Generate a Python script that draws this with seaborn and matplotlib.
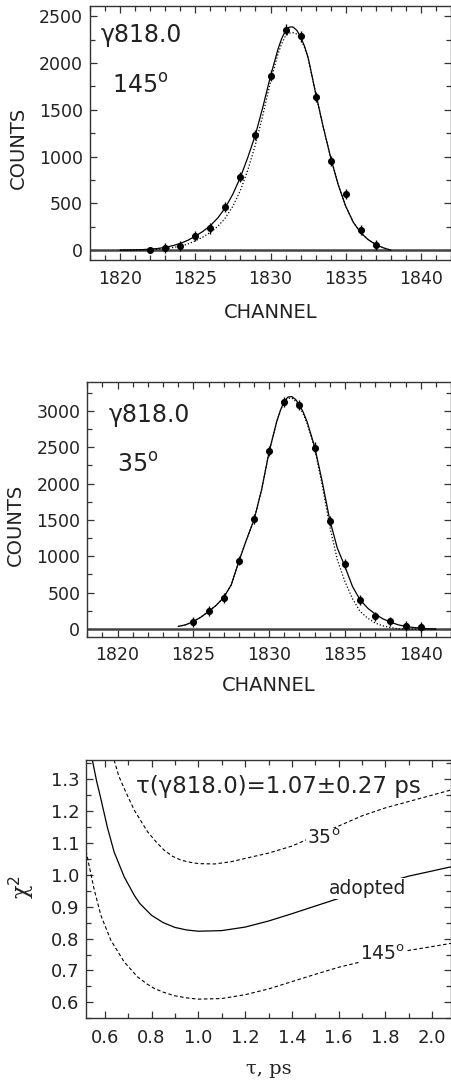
import numpy as np
import pandas as pd
import matplotlib
matplotlib.use("Agg")
import matplotlib.pyplot as plt
import seaborn as sns
from matplotlib.ticker import MultipleLocator, FormatStrFormatter

# ---------------- data ----------------
# Panel 1 (145 deg)
ch145 = [1822, 1823, 1824, 1825, 1826, 1827, 1828, 1829, 1830, 1831, 1832, 1833, 1834, 1835, 1836, 1837]
cnt145 = [0, 20, 48, 152, 233, 465, 783, 1229, 1866, 2358, 2288, 1638, 956, 597, 214, 55]
err145 = [25, 55, 55, 55, 55, 55, 55, 55, 58, 58, 58, 55, 55, 55, 55, 55]

fit145_x = [1820, 1820.5, 1821, 1821.5, 1822, 1822.5, 1823, 1823.5, 1824, 1824.5, 1825, 1825.5,
            1826, 1826.5, 1827, 1827.5, 1828, 1828.5, 1829, 1829.5, 1830, 1830.5, 1830.75, 1831,
            1831.25, 1831.5, 1831.75, 1832, 1832.25, 1832.5, 1833, 1833.5, 1834, 1834.5, 1835,
            1835.5, 1836, 1836.5, 1837, 1837.5, 1838]
fit145_solid = [0, 1, 3, 6, 11, 18, 30, 48, 72, 105, 150, 200,
                262, 345, 455, 600, 780, 995, 1235, 1535, 1860, 2150, 2265, 2345,
                2385, 2385, 2350, 2280, 2185, 2060, 1680, 1320, 990, 700, 470,
                300, 185, 112, 60, 25, 0]
fit145_dot = [0, 0, 1, 3, 5, 10, 17, 28, 42, 65, 100, 140,
              190, 255, 345, 470, 640, 860, 1130, 1450, 1800, 2100, 2210, 2290,
              2320, 2325, 2310, 2260, 2170, 2050, 1680, 1320, 990, 700, 470,
              300, 185, 112, 60, 25, 0]

# Panel 2 (35 deg)
ch35 = [1825, 1826, 1827, 1828, 1829, 1830, 1831, 1832, 1833, 1834, 1835, 1836, 1837, 1838, 1839, 1840]
cnt35 = [96, 247, 426, 942, 1515, 2449, 3126, 3085, 2495, 1488, 897, 402, 173, 105, 45, 27]
err35 = [65, 65, 65, 65, 65, 70, 70, 70, 70, 65, 65, 65, 65, 65, 65, 65]

fit35_x = [1824, 1824.5, 1825, 1825.5, 1826, 1826.5, 1827, 1827.5, 1828, 1828.5, 1829, 1829.5,
           1830, 1830.5, 1830.75, 1831, 1831.25, 1831.5, 1831.75, 1832, 1832.25, 1832.5, 1833,
           1833.5, 1834, 1834.5, 1835, 1835.5, 1836, 1836.5, 1837, 1837.5, 1838, 1838.5, 1839,
           1839.5, 1840, 1840.5, 1841]
fit35_solid = [36, 59, 105, 164, 242, 325, 434, 608, 928, 1226, 1500, 1913,
               2439, 2852, 3010, 3136, 3190, 3195, 3155, 3080, 2980, 2852, 2509,
               2028, 1500, 1112, 860, 585, 402, 288, 206, 141, 96, 59, 36,
               22, 13, 4, 0]
fit35_dot = [36, 59, 105, 164, 242, 325, 434, 608, 928, 1226, 1500, 1913,
             2439, 2852, 3005, 3130, 3172, 3175, 3130, 3058, 2955, 2830, 2485,
             1982, 1410, 951, 654, 416, 242, 150, 82, 45, 22, 4, 0,
             0, 0, 0, 0]

# Panel 3 (chi^2 vs tau)
tau_adopted = [0.547, 0.565, 0.583, 0.611, 0.64, 0.683, 0.726, 0.75, 0.8, 0.85, 0.9, 0.95, 1.0, 1.1,
               1.2, 1.3, 1.4, 1.5, 1.6, 1.7, 1.8, 1.9, 2.0, 2.08]
chi_adopted = [1.36, 1.295, 1.24, 1.15, 1.072, 0.994, 0.936, 0.910, 0.873, 0.850, 0.835, 0.827,
               0.823, 0.825, 0.836, 0.855, 0.878, 0.902, 0.926, 0.952, 0.975, 0.996, 1.012, 1.025]
tau_35 = [0.64, 0.66, 0.683, 0.726, 0.783, 0.82, 0.854, 0.89, 0.926, 0.96, 1.0, 1.07, 1.14, 1.21, 1.3,
          1.4, 1.5, 1.6, 1.7, 1.8, 1.9, 2.0, 2.08]
chi_35 = [1.36, 1.31, 1.271, 1.203, 1.135, 1.103, 1.077, 1.058, 1.046, 1.040, 1.035, 1.034, 1.041,
          1.053, 1.068, 1.090, 1.122, 1.153, 1.185, 1.210, 1.230, 1.250, 1.266]
tau_145 = [0.52, 0.554, 0.583, 0.626, 0.683, 0.74, 0.78, 0.811, 0.85, 0.897, 0.95, 1.0, 1.1, 1.2, 1.3,
           1.4, 1.5, 1.6, 1.7, 1.8, 1.9, 2.0, 2.08]
chi_145 = [1.075, 0.957, 0.874, 0.795, 0.727, 0.680, 0.658, 0.644, 0.632, 0.621, 0.614, 0.610,
           0.612, 0.624, 0.642, 0.665, 0.688, 0.710, 0.728, 0.745, 0.763, 0.775, 0.785]

# ---------------- style ----------------
sns.set_style("ticks")
plt.rcParams['font.family'] = ['DejaVu Sans']
plt.rcParams['mathtext.fontset'] = 'dejavusans'
plt.rcParams['axes.edgecolor'] = '#333333'
plt.rcParams['axes.linewidth'] = 1.0

fig = plt.figure(figsize=(4.51, 10.82), dpi=100)
ax1 = fig.add_axes([90 / 451, 1 - 260 / 1082, 361 / 451, 254 / 1082])
ax2 = fig.add_axes([87.3 / 451, 1 - 636.7 / 1082, 363.7 / 451, 255 / 1082])
ax3 = fig.add_axes([86 / 451, 1 - 1018.3 / 1082, 365 / 451, 258.3 / 1082])

TXT = '#222222'


def style_ticks(ax, fs, xpad, ypad):
    ax.tick_params(which='both', direction='in', top=True, right=True,
                   colors='#333333', labelcolor=TXT, labelsize=fs, width=0.9)
    ax.tick_params(which='major', length=5)
    ax.tick_params(which='minor', length=3.5)
    ax.tick_params(axis='x', which='major', pad=xpad)
    ax.tick_params(axis='y', which='major', pad=ypad)
    for s in ax.spines.values():
        s.set_visible(True)
        s.set_color('#333333')


def peak_panel(ax, ch, cnt, err, fx, fs, fd, ymax, top_major, label_angle,
               pos_g, pos_a, xlab_y, ylab_x, ylab_y):
    ax.axhline(0, color='#444444', lw=1.8, zorder=1)
    d_fit = pd.DataFrame({'x': fx, 'solid': fs, 'dot': fd})
    sns.lineplot(data=d_fit, x='x', y='dot', ax=ax, color='black', lw=0.9,
                 linestyle=(0, (1, 1.6)), estimator=None, sort=False, zorder=2)
    sns.lineplot(data=d_fit, x='x', y='solid', ax=ax, color='black', lw=0.9,
                 estimator=None, sort=False, zorder=3)
    ax.errorbar(ch, cnt, yerr=err, fmt='none', ecolor='black', elinewidth=1.0,
                capsize=0, zorder=4)
    d_pts = pd.DataFrame({'x': ch, 'y': cnt})
    sns.scatterplot(data=d_pts, x='x', y='y', ax=ax, color='black', s=26,
                    edgecolor='black', linewidth=0, zorder=5)
    ax.set_xlim(1818.0, 1842.0)
    ax.set_ylim(-105, ymax)
    ax.xaxis.set_major_locator(MultipleLocator(5))
    ax.xaxis.set_minor_locator(MultipleLocator(1))
    ax.set_yticks(np.arange(0, top_major + 1, 500))
    ax.yaxis.set_minor_locator(MultipleLocator(250))
    style_ticks(ax, 12.5, 7, 5)
    ax.set_xlabel('CHANNEL', fontsize=14, color=TXT)
    ax.set_ylabel('COUNTS', fontsize=14, color=TXT)
    ax.xaxis.set_label_coords(0.5, xlab_y)
    ax.yaxis.set_label_coords(ylab_x, ylab_y)
    ax.text(pos_g[0], pos_g[1], 'γ818.0', transform=ax.transAxes, fontsize=17,
            color=TXT, va='center', ha='left')
    ax.text(pos_a[0], pos_a[1], label_angle + r'$^{\rm o}$', transform=ax.transAxes,
            fontsize=17, color=TXT, va='center', ha='left')


peak_panel(ax1, ch145, cnt145, err145, fit145_x, fit145_solid, fit145_dot,
           2610, 2500, '145', (0.03, 0.886), (0.06, 0.685), -0.168, -0.172, 0.44)
peak_panel(ax2, ch35, cnt35, err35, fit35_x, fit35_solid, fit35_dot,
           3400, 3000, '35', (0.058, 0.87), (0.081, 0.676), -0.155, -0.172, 0.438)

# ---- panel 3 ----
d_ad = pd.DataFrame({'tau': tau_adopted, 'chi': chi_adopted})
d_35 = pd.DataFrame({'tau': tau_35, 'chi': chi_35})
d_145 = pd.DataFrame({'tau': tau_145, 'chi': chi_145})
sns.lineplot(data=d_ad, x='tau', y='chi', ax=ax3, color='black', lw=0.9,
             estimator=None, sort=False)
sns.lineplot(data=d_35, x='tau', y='chi', ax=ax3, color='black', lw=0.8,
             linestyle=(0, (3.2, 2.2)), estimator=None, sort=False)
sns.lineplot(data=d_145, x='tau', y='chi', ax=ax3, color='black', lw=0.8,
             linestyle=(0, (3.2, 2.2)), estimator=None, sort=False)
ax3.set_xlim(0.52, 2.08)
ax3.set_ylim(0.55, 1.36)
ax3.xaxis.set_major_locator(MultipleLocator(0.2))
ax3.xaxis.set_minor_locator(MultipleLocator(0.1))
ax3.yaxis.set_major_locator(MultipleLocator(0.1))
ax3.yaxis.set_minor_locator(MultipleLocator(0.05))
ax3.xaxis.set_major_formatter(FormatStrFormatter('%.1f'))
ax3.yaxis.set_major_formatter(FormatStrFormatter('%.1f'))
style_ticks(ax3, 13, 7.5, 4.5)
ax3.set_xlabel('τ, ps', fontsize=14, color=TXT, family=['DejaVu Serif'])
ax3.set_ylabel('χ$^{2}$', fontsize=16, color=TXT, family=['DejaVu Serif'])
ax3.xaxis.set_label_coords(0.5, -0.16)
ax3.yaxis.set_label_coords(-0.135, 0.508)

bbox = dict(facecolor='white', edgecolor='none', pad=0.5)
ax3.text(0.735, 1.276, 'τ(γ818.0)=1.07±0.27 ps', fontsize=16.5, color=TXT,
         va='center', ha='left')
ax3.text(1.535, 1.113, '35$^{\\rm o}$', fontsize=13.5, color=TXT, va='center',
         ha='center', bbox=bbox)
ax3.text(1.725, 0.957, 'adopted', fontsize=13.5, color=TXT, va='center',
         ha='center', bbox=bbox)
ax3.text(1.79, 0.752, '145$^{\\rm o}$', fontsize=13.5, color=TXT, va='center',
         ha='center', bbox=bbox)

fig.savefig('out.png', dpi=100)
